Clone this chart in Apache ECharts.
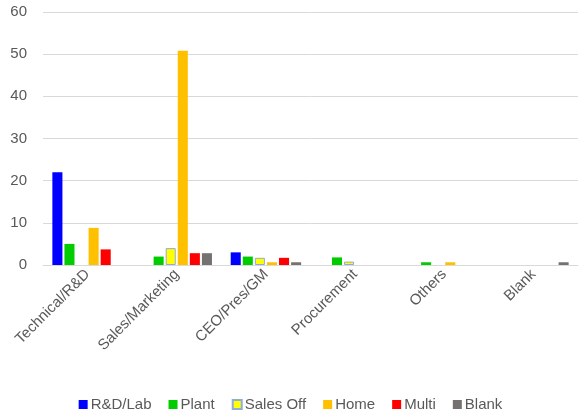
<!DOCTYPE html>
<html><head><meta charset="utf-8">
<script src="https://cdn.jsdelivr.net/npm/echarts@6/dist/echarts.min.js"></script>
<style>html,body{margin:0;padding:0;background:#fff}#c{width:581px;height:415px}</style>
</head><body><div id="c"></div>
<script>
const categories = ["Technical/R&D","Sales/Marketing","CEO/Pres/GM","Procurement","Others","Blank"];
const seriesNames = ["R&D/Lab","Plant","Sales Off","Home","Multi","Blank"];
const rdLab    = [22, 0, 3, 0, 0, 0];
const plant    = [5, 2, 2, 1.8, 0.65, 0];
const salesOff = [0, 4, 1.7, 0.8, 0, 0];
const home     = [8.8, 50.8, 0.65, 0, 0.65, 0];
const multi    = [3.7, 2.8, 1.7, 0, 0, 0];
const blank    = [0, 2.8, 0.65, 0, 0, 0.65];
const yTicks = [0,10,20,30,40,50,60];

const colors = ["#0000FF","#00CC00","#FFFF00","#FFC000","#FF0000","#767171"];
const values = [rdLab, plant, salesOff, home, multi, blank];
const chart = echarts.init(document.getElementById('c'));
const font = "Liberation Sans, Arial, sans-serif";
chart.setOption({
  animation:false,
  grid:{left:43,right:3,top:12,bottom:150},
  legend:{top:392,left:'center',itemWidth:9,itemHeight:9,itemGap:17,
    icon:'rect',
    textStyle:{color:'#595959',fontSize:15,fontFamily:font,padding:[0,0,0,-2]},
    data:seriesNames.map(n=>({name:n}))},
  xAxis:{type:'category',data:categories,
    axisLine:{lineStyle:{color:'#D9D9D9'}},axisTick:{show:false},
    axisLabel:{rotate:45,color:'#595959',fontSize:15,fontFamily:font,margin:7,interval:0}},
  yAxis:{type:'value',min:yTicks[0],max:yTicks[yTicks.length-1],interval:10,
    axisLine:{show:false},axisTick:{show:false},
    splitLine:{lineStyle:{color:'#D9D9D9'}},
    axisLabel:{color:'#595959',fontSize:15,fontFamily:font,margin:16}},
  series:values.map((v,i)=>({
    name:seriesNames[i],type:'bar',data:v.map(x=>x===0?'-':x),
    barGap:'20%',barCategoryGap:'21%',
    itemStyle:{color:colors[i],
      borderColor: i===2 ? '#8FAADC' : null,
      borderWidth: i===2 ? 1 : 0}
  }))
});
</script></body></html>
